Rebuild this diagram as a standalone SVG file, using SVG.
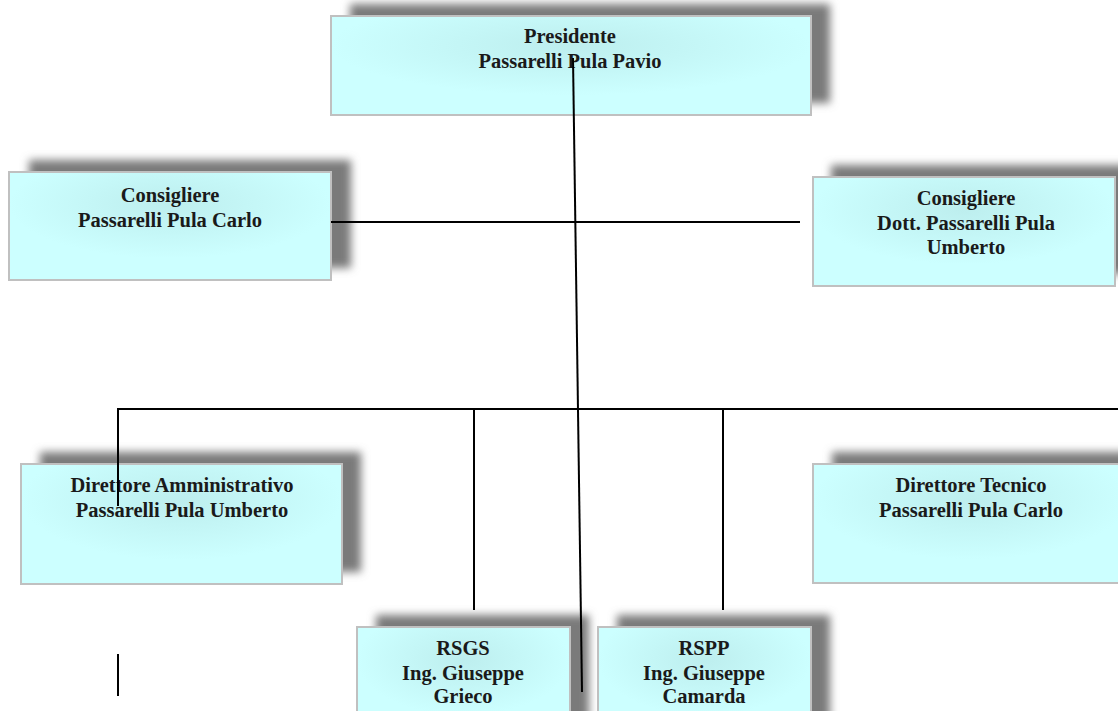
<svg xmlns="http://www.w3.org/2000/svg" width="1118" height="711" viewBox="0 0 1118 711">
<defs>
<filter id="sh" x="-20%" y="-40%" width="140%" height="180%">
<feGaussianBlur stdDeviation="4"/>
</filter>
<radialGradient id="gl" cx="0.5" cy="0.3" r="0.5">
<stop offset="0" stop-color="#bdeeee"/>
<stop offset="1" stop-color="#ccffff"/>
</radialGradient>
</defs>
<style>
.shadow{fill:#7a7a7a;filter:url(#sh)}
.box{fill:url(#gl);stroke:#c0c0c0;stroke-width:2}
.t{font-family:"Liberation Serif",serif;font-weight:bold;font-size:20.5px;fill:#1a1a1a;text-anchor:middle}
.c{stroke:#000;stroke-width:2;fill:none}
</style>
<rect width="1118" height="711" fill="#fff"/>
<g id="n-presidente">
<rect class="shadow" x="350" y="4" width="480" height="99"/>
<rect class="box" x="331" y="16" width="480" height="99"/>
<text class="t" x="570" y="43">Presidente</text>
<text class="t" x="570" y="68">Passarelli Pula Pavio</text>
</g>
<g id="n-cons1">
<rect class="shadow" x="29" y="160" width="322" height="108"/>
<rect class="box" x="9" y="172" width="322" height="108"/>
<text class="t" x="170" y="202">Consigliere</text>
<text class="t" x="170" y="227">Passarelli Pula Carlo</text>
</g>
<g id="n-cons2">
<rect class="shadow" x="831" y="165" width="302" height="109"/>
<rect class="box" x="813" y="177" width="302" height="109"/>
<text class="t" x="966" y="205">Consigliere</text>
<text class="t" x="966" y="230">Dott. Passarelli Pula</text>
<text class="t" x="966" y="254">Umberto</text>
</g>
<g id="n-diramm">
<rect class="shadow" x="40" y="452" width="321" height="120"/>
<rect class="box" x="21" y="464" width="321" height="120"/>
<text class="t" x="182" y="492">Direttore Amministrativo</text>
<text class="t" x="182" y="517">Passarelli Pula Umberto</text>
</g>
<g id="n-dirtec">
<rect class="shadow" x="832" y="452" width="316" height="119"/>
<rect class="box" x="813" y="464" width="316" height="119"/>
<text class="t" x="971" y="492">Direttore Tecnico</text>
<text class="t" x="971" y="517">Passarelli Pula Carlo</text>
</g>
<g id="n-rsgs">
<rect class="shadow" x="376" y="615" width="213" height="110"/>
<rect class="box" x="357" y="627" width="213" height="110"/>
<text class="t" x="463" y="655">RSGS</text>
<text class="t" x="463" y="680">Ing. Giuseppe</text>
<text class="t" x="463" y="703">Grieco</text>
</g>
<g id="n-rspp">
<rect class="shadow" x="617" y="615" width="213" height="110"/>
<rect class="box" x="598" y="627" width="213" height="110"/>
<text class="t" x="704" y="655">RSPP</text>
<text class="t" x="704" y="680">Ing. Giuseppe</text>
<text class="t" x="704" y="703">Camarda</text>
</g>
<g id="connectors">
<line class="c" x1="573" y1="58" x2="582" y2="692"/>
<line class="c" x1="331" y1="222" x2="800" y2="222"/>
<line class="c" x1="118" y1="409" x2="1118" y2="409"/>
<line class="c" x1="118" y1="408" x2="118" y2="506"/>
<line class="c" x1="474" y1="409" x2="474" y2="610"/>
<line class="c" x1="723" y1="409" x2="723" y2="610"/>
<line class="c" x1="118" y1="654" x2="118" y2="696"/>
</g>
</svg>
